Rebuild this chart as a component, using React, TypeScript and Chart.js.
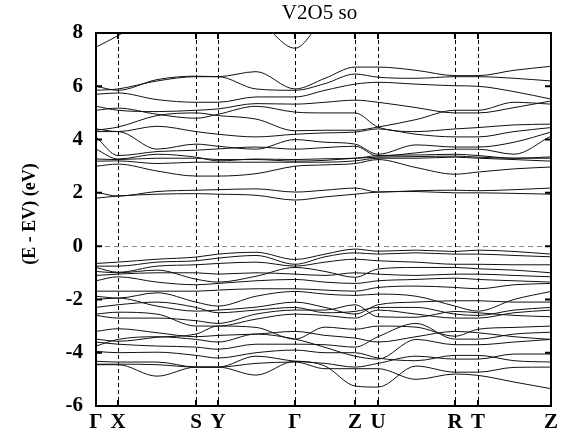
import React, { useEffect, useRef } from 'react';
import { Chart, registerables } from 'chart.js';

Chart.register(...registerables);

// High-symmetry points along the k-path
const kLabels = ['Γ', 'X', 'S', 'Y', 'Γ', 'Z', 'U', 'R', 'T', 'Z'];
const kPositions = [0, 22, 100, 122, 199, 259, 282, 359, 382, 455];

// k-path sample positions at which each band energy was read
const samplePositions = [0, 22, 61, 100, 122, 160, 199, 229, 259, 282, 320, 359, 382, 418, 455];

const yTickValues = [-6, -4, -2, 0, 2, 4, 6, 8];
const chartTitle = 'V2O5 so';
const yAxisTitle = '(E - EV) (eV)';

// Conduction bands (eV)
const conductionBands: number[][] = [
  [1.80, 1.88, 1.95, 1.97, 1.95, 1.91, 1.73, 1.85, 1.95, 2.03, 2.05, 2.00, 2.00, 1.98, 1.95],
  [2.03, 1.88, 2.05, 2.10, 2.12, 2.15, 2.03, 2.10, 2.18, 2.03, 2.08, 2.10, 2.08, 2.12, 2.18],
  [3.00, 3.08, 2.82, 2.63, 2.63, 2.72, 3.00, 3.05, 3.10, 3.25, 2.95, 2.70, 2.78, 2.90, 2.97],
  [3.19, 3.20, 3.10, 3.15, 3.15, 3.15, 3.15, 3.15, 3.20, 3.30, 3.30, 3.34, 3.30, 3.25, 3.19],
  [3.27, 3.25, 3.30, 3.30, 3.25, 3.25, 3.19, 3.22, 3.30, 3.34, 3.36, 3.38, 3.34, 3.30, 3.30],
  [3.64, 3.27, 3.45, 3.34, 3.20, 3.27, 3.25, 3.28, 3.30, 3.40, 3.42, 3.45, 3.40, 3.30, 3.35],
  [4.10, 3.40, 3.55, 3.60, 3.65, 3.72, 3.64, 3.70, 3.75, 3.38, 3.50, 3.64, 3.64, 3.45, 4.13],
  [4.30, 4.30, 3.64, 3.83, 3.75, 3.64, 4.00, 3.90, 3.83, 3.45, 3.80, 3.72, 3.72, 3.90, 4.28],
  [4.40, 4.30, 4.50, 4.30, 4.20, 4.10, 4.20, 4.25, 4.28, 4.40, 4.20, 4.10, 4.10, 4.30, 4.45],
  [4.35, 4.47, 4.90, 5.00, 4.90, 4.77, 4.33, 4.35, 4.35, 4.47, 4.75, 5.10, 5.10, 5.40, 5.33],
  [5.10, 5.18, 4.95, 4.80, 4.95, 5.25, 5.03, 5.00, 5.00, 4.47, 4.30, 4.40, 4.45, 4.55, 4.58],
  [5.25, 5.10, 5.05, 5.10, 5.15, 5.35, 5.33, 5.40, 5.48, 5.40, 5.20, 5.00, 5.00, 5.20, 5.45],
  [5.70, 5.75, 5.50, 5.40, 5.40, 5.60, 5.60, 5.85, 6.08, 6.15, 6.08, 6.02, 6.00, 5.80, 5.52],
  [5.85, 5.90, 6.20, 6.36, 6.36, 5.90, 5.85, 6.10, 6.46, 6.34, 6.30, 6.36, 6.36, 6.30, 6.20],
  [6.00, 5.85, 6.25, 6.38, 6.36, 6.55, 5.90, 6.30, 6.72, 6.72, 6.60, 6.40, 6.40, 6.60, 6.75],
  [7.47, 7.90, 8.80, 9.20, 9.20, 8.60, 7.43, 8.60, 9.20, 9.20, 9.20, 9.20, 9.20, 9.20, 9.20],
];

// Valence bands (eV)
const valenceBands: number[][] = [
  [-0.65, -0.60, -0.49, -0.41, -0.30, -0.23, -0.50, -0.30, -0.11, -0.19, -0.15, -0.20, -0.15, -0.20, -0.30],
  [-0.75, -0.75, -0.60, -0.55, -0.45, -0.35, -0.68, -0.40, -0.25, -0.30, -0.25, -0.30, -0.30, -0.35, -0.40],
  [-0.80, -0.98, -0.75, -0.70, -0.65, -0.60, -0.75, -0.60, -0.49, -0.55, -0.60, -0.68, -0.68, -0.70, -0.70],
  [-0.95, -1.00, -0.90, -1.24, -1.35, -1.13, -0.80, -0.95, -1.17, -0.86, -0.80, -0.80, -0.85, -0.90, -1.00],
  [-1.10, -1.05, -1.00, -1.00, -1.05, -1.00, -1.05, -1.10, -1.00, -1.05, -1.10, -1.05, -1.05, -1.10, -1.15],
  [-1.30, -1.15, -1.35, -1.45, -1.40, -1.30, -1.25, -1.35, -1.40, -1.30, -1.25, -1.20, -1.25, -1.30, -1.35],
  [-1.69, -1.69, -1.69, -1.69, -1.65, -1.60, -1.60, -1.65, -1.69, -1.55, -1.50, -1.55, -1.60, -1.45, -1.40],
  [-1.88, -1.95, -1.75, -2.10, -2.25, -1.88, -1.70, -1.80, -1.85, -1.80, -1.88, -2.25, -2.44, -2.00, -1.70],
  [-2.00, -1.95, -2.25, -2.44, -2.40, -2.29, -2.10, -2.30, -2.55, -2.20, -2.10, -2.05, -2.05, -2.10, -2.10],
  [-2.30, -2.20, -2.10, -2.30, -2.50, -2.40, -2.30, -2.50, -2.45, -2.30, -2.30, -2.55, -2.60, -2.40, -2.30],
  [-2.55, -2.48, -2.55, -3.00, -3.00, -2.74, -2.55, -2.60, -2.70, -2.40, -2.55, -2.70, -2.70, -2.50, -2.40],
  [-2.60, -2.70, -2.70, -2.80, -2.90, -2.55, -2.40, -2.40, -2.20, -2.65, -2.67, -2.45, -2.50, -2.60, -2.65],
  [-3.20, -3.10, -3.25, -3.40, -3.35, -3.30, -3.20, -3.35, -3.45, -3.60, -3.40, -3.20, -3.25, -3.40, -3.50],
  [-3.49, -3.57, -3.42, -3.30, -3.00, -3.05, -3.49, -3.04, -3.12, -3.00, -3.04, -3.38, -3.12, -3.05, -3.00],
  [-3.60, -3.68, -3.75, -3.79, -3.87, -3.68, -3.68, -3.70, -3.79, -3.40, -2.90, -3.49, -3.49, -3.30, -3.23],
  [-3.75, -3.50, -3.40, -3.50, -3.60, -3.30, -3.49, -3.80, -4.13, -4.24, -3.50, -3.70, -3.70, -3.60, -3.50],
  [-3.95, -4.00, -3.98, -4.10, -4.20, -4.00, -3.90, -4.00, -4.00, -4.20, -4.30, -4.10, -4.10, -4.30, -4.35],
  [-4.32, -4.35, -4.35, -4.54, -4.54, -4.13, -4.32, -4.40, -4.54, -4.40, -4.13, -4.24, -4.24, -4.05, -4.05],
  [-4.43, -4.43, -4.45, -4.54, -4.54, -4.84, -4.32, -4.50, -5.25, -5.29, -4.50, -4.73, -4.73, -4.55, -4.54],
  [-4.45, -4.45, -4.88, -4.54, -4.54, -4.40, -4.35, -4.60, -4.60, -4.60, -5.00, -4.80, -4.85, -5.10, -5.35],
];

const SERIF = "'Liberation Serif', 'DejaVu Serif', serif";

const framePlugin = {
  id: 'bandFrame',
  beforeDatasetsDraw(chart: any) {
    const { ctx, chartArea: a, scales } = chart;
    const x = scales.x;
    const y = scales.y;
    ctx.save();
    ctx.lineWidth = 1;
    ctx.strokeStyle = '#000';
    ctx.setLineDash([4, 3]);
    kPositions.forEach((k, i) => {
      if (i === 0 || i === kPositions.length - 1) return;
      const px = Math.round(x.getPixelForValue(k)) + 0.5;
      ctx.beginPath();
      ctx.moveTo(px, a.top);
      ctx.lineTo(px, a.bottom);
      ctx.stroke();
    });
    ctx.strokeStyle = '#8a8a8a';
    ctx.setLineDash([5, 4]);
    const py0 = Math.round(y.getPixelForValue(0)) + 0.5;
    ctx.beginPath();
    ctx.moveTo(a.left, py0);
    ctx.lineTo(a.right, py0);
    ctx.stroke();
    ctx.restore();
  },
  afterDatasetsDraw(chart: any) {
    const { ctx, chartArea: a, scales } = chart;
    const x = scales.x;
    const y = scales.y;
    ctx.save();
    ctx.setLineDash([]);
    ctx.strokeStyle = '#000';
    ctx.lineWidth = 2;
    ctx.strokeRect(a.left, a.top, a.right - a.left, a.bottom - a.top);
    const tl = 6;
    kPositions.forEach((k) => {
      const px = x.getPixelForValue(k);
      ctx.beginPath();
      ctx.moveTo(px, a.top);
      ctx.lineTo(px, a.top + tl);
      ctx.moveTo(px, a.bottom);
      ctx.lineTo(px, a.bottom - tl);
      ctx.stroke();
    });
    yTickValues.forEach((v) => {
      const py = y.getPixelForValue(v);
      ctx.beginPath();
      ctx.moveTo(a.left, py);
      ctx.lineTo(a.left + tl, py);
      ctx.moveTo(a.right, py);
      ctx.lineTo(a.right - tl, py);
      ctx.stroke();
    });
    // title
    ctx.fillStyle = '#000';
    ctx.font = `21px ${SERIF}`;
    ctx.textAlign = 'center';
    ctx.textBaseline = 'middle';
    ctx.fillText(chartTitle, (a.left + a.right) / 2 - 4, 13);
    // y axis title
    ctx.translate(30, 214);
    ctx.rotate(-Math.PI / 2);
    ctx.font = `bold 18px ${SERIF}`;
    ctx.fillText(yAxisTitle, 0, 0);
    ctx.restore();
  },
};

export default function App() {
  const canvasRef = useRef<HTMLCanvasElement | null>(null);

  useEffect(() => {
    const canvas = canvasRef.current;
    if (!canvas) return;
    const allBands = [...valenceBands, ...conductionBands];
    const datasets = allBands.map((band, bi) => ({
      label: `band ${bi + 1}`,
      data: samplePositions.map((kx, i) => ({ x: kx, y: band[i] })),
      borderColor: '#111',
      borderWidth: 1,
      pointRadius: 0,
      fill: false,
      cubicInterpolationMode: 'monotone' as const,
    }));

    const tickFont = { family: SERIF, size: 21, weight: 'bold' as const };

    const chart = new Chart(canvas, {
      type: 'line',
      data: { datasets },
      options: {
        responsive: false,
        animation: false,
        layout: { padding: { top: 33, right: 20, left: 0, bottom: 0 } },
        plugins: {
          legend: { display: false },
          tooltip: { enabled: false },
          title: { display: false },
        },
        scales: {
          x: {
            type: 'linear',
            min: 0,
            max: 455,
            afterBuildTicks: (s: any) => {
              s.ticks = kPositions.map((v) => ({ value: v }));
            },
            afterFit: (s: any) => {
              s.height = 37;
            },
            ticks: {
              autoSkip: false,
              maxRotation: 0,
              color: '#000',
              font: tickFont,
              padding: 4,
              callback: (_v: any, i: number) => kLabels[i],
            },
            grid: { display: false, drawTicks: false },
            border: { display: false },
          },
          y: {
            type: 'linear',
            min: -6,
            max: 8,
            afterBuildTicks: (s: any) => {
              s.ticks = yTickValues.map((v) => ({ value: v }));
            },
            afterFit: (s: any) => {
              s.width = 96;
            },
            ticks: {
              color: '#000',
              font: tickFont,
              padding: 13,
              callback: (v: any) => String(v),
            },
            grid: { display: false, drawTicks: false },
            border: { display: false },
          },
        },
      },
      plugins: [framePlugin],
    });
    return () => chart.destroy();
  }, []);

  return (
    <div style={{ position: 'absolute', left: 0, top: 0, width: 571, height: 443, background: '#fff' }}>
      <canvas ref={canvasRef} width={571} height={443} />
    </div>
  );
}
